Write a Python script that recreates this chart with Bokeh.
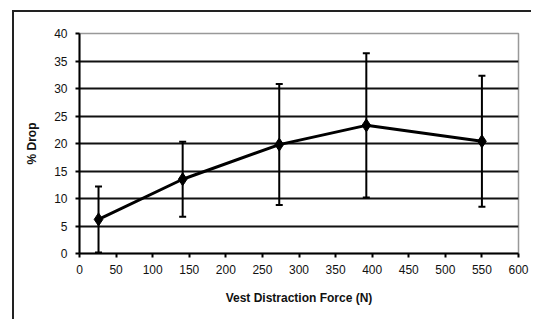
from bokeh.plotting import figure
from bokeh.models import ColumnDataSource, Whisker, FixedTicker, TeeHead
from bokeh.embed import file_html
from bokeh.resources import INLINE

force = [26, 141, 273, 392, 550]
drop = [6.2, 13.5, 19.8, 23.3, 20.4]
err = [6.0, 6.8, 11.0, 13.1, 11.9]
x_ticks = [0, 50, 100, 150, 200, 250, 300, 350, 400, 450, 500, 550, 600]
y_ticks = [0, 5, 10, 15, 20, 25, 30, 35, 40]

upper = [d + e for d, e in zip(drop, err)]
lower = [max(d - e, 0) for d, e in zip(drop, err)]
src = ColumnDataSource(dict(x=force, y=drop, upper=upper, lower=lower))

p = figure(width=519, height=309, output_backend="svg", toolbar_location=None,
           x_range=(0, 600), y_range=(0, 40),
           min_border_left=65, min_border_right=15, min_border_top=21, min_border_bottom=68,
           margin=(10, 0, 0, 12),
           styles={"border-top": "2px solid #222", "border-left": "2px solid #222"})
p.outline_line_color = "#999999"
p.outline_line_width = 1.5
p.background_fill_color = "white"

p.xgrid.visible = False
p.ygrid.grid_line_color = "#111111"
p.ygrid.grid_line_width = 2
p.ygrid.ticker = FixedTicker(ticks=y_ticks[1:-1])

for ax in (p.xaxis[0], p.yaxis[0]):
    ax.axis_line_color = "black"
    ax.axis_line_width = 2
    ax.major_tick_line_color = "black"
    ax.major_tick_line_width = 2
    ax.major_tick_out = 4
    ax.major_tick_in = 0
    ax.minor_tick_line_color = None
    ax.major_label_text_font = "Liberation Sans"
    ax.major_label_text_font_size = "12px"
    ax.major_label_text_color = "#111111"
    ax.axis_label_text_font = "Liberation Sans"
    ax.axis_label_text_font_size = "12px"
    ax.axis_label_text_font_style = "bold"
    ax.axis_label_text_color = "#111111"

p.xaxis.ticker = FixedTicker(ticks=x_ticks)
p.yaxis.ticker = FixedTicker(ticks=y_ticks)
p.xaxis.axis_label = "Vest Distraction Force (N)"
p.yaxis.axis_label = "% Drop"
p.xaxis.major_label_standoff = 7
p.xaxis.axis_label_standoff = 14
p.yaxis.major_label_standoff = 8
p.yaxis.axis_label_standoff = 12

w = Whisker(source=src, base="x", upper="upper", lower="lower",
            line_color="black", line_width=2,
            upper_head=TeeHead(size=7, line_color="black", line_width=2),
            lower_head=TeeHead(size=7, line_color="black", line_width=2))
p.add_layout(w)

p.line("x", "y", source=src, line_color="black", line_width=3)
p.scatter("x", "y", source=src, marker="diamond", size=13, fill_color="black", line_color="black")

open("out.html", "w").write(file_html(p, INLINE))
